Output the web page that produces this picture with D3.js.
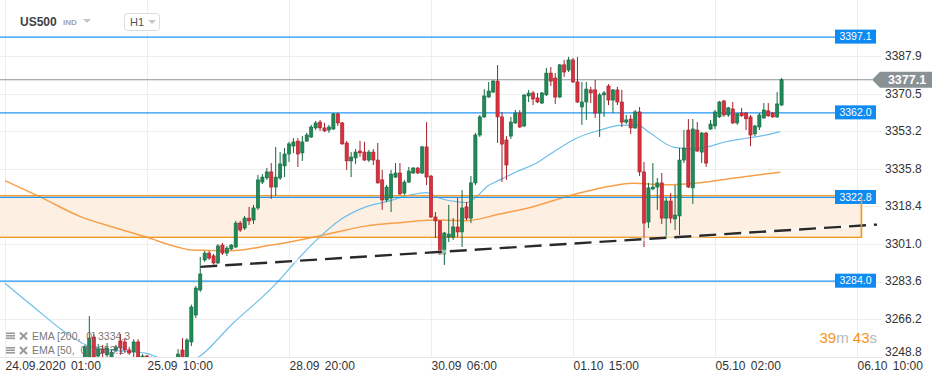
<!DOCTYPE html>
<html><head><meta charset="utf-8">
<script src="https://cdn.jsdelivr.net/npm/d3@7"></script>
<style>
body{margin:0;background:#fff;}
svg{display:block;font-family:"Liberation Sans",Arial,sans-serif;}
</style>
</head><body>
<svg id="c" width="945" height="383"></svg>
<script>
// ---------- DATA ----------
const symbol = "US500";
const symbolType = "IND";
const timeframe = "H1";
const firstIndex = 18; // index of the first candle (hourly bars, 32 per grid step)
const opens = [
3246.3,3248.6,3257.9,3249.1,3252.3,3249.6,3248.6,3251.9,3256.1,3255.6,
3251.9,3251.0,3255.6,3248.2,3249.1,3248.2,3244.0,3240.8,3237.6,3240.2,
3238.0,3248.2,3251.9,3247.2,3255.6,3268.1,3279.7,3293.6,3296.8,3295.5,
3292.2,3300.5,3296.8,3298.7,3299.6,3310.7,3308.4,3313.0,3312.1,3317.7,
3329.7,3331.6,3334.4,3327.4,3331.6,3337.2,3342.7,3346.4,3348.7,3343.2,
3348.7,3350.6,3354.8,3357.5,3354.8,3353.8,3354.3,3361.3,3357.1,3347.8,
3339.5,3340.9,3344.1,3343.6,3339.9,3343.6,3339.9,3330.7,3321.4,3322.3,
3332.0,3333.9,3324.6,3329.7,3333.9,3336.2,3333.9,3346.0,3332.5,3313.5,
3311.7,3296.4,3304.2,3304.2,3308.9,3306.6,3318.2,3313.0,3329.3,3351.5,
3359.9,3369.1,3371.4,3376.5,3359.9,3349.2,3351.0,3357.1,3361.7,3355.7,
3369.6,3371.0,3368.7,3366.3,3370.1,3380.2,3377.9,3369.1,3384.0,3381.6,
3386.3,3376.1,3364.5,3366.8,3372.4,3372.4,3361.7,3370.1,3374.2,3367.7,
3372.4,3366.8,3357.5,3358.9,3354.8,3362.2,3334.4,3311.2,3326.5,3327.4,
3329.3,3313.0,3320.9,3312.6,3314.0,3339.9,3353.8,3327.0,3353.8,3343.6,
3352.4,3354.3,3355.7,3359.9,3367.3,3360.8,3363.6,3357.1,3361.7,3361.7,
3359.9,3352.0,3355.2,3359.4,3362.7,3361.7,3359.9,3365.4];
const highs = [
3254.2,3267.6,3259.3,3254.7,3254.2,3255.1,3252.3,3254.2,3259.3,3257.4,
3253.3,3256.9,3256.9,3250.0,3249.6,3248.8,3245.0,3241.9,3241.5,3241.2,
3247.8,3252.3,3257.4,3257.4,3272.9,3281.5,3295.0,3297.8,3297.8,3296.4,
3301.0,3301.5,3300.1,3301.0,3311.7,3311.7,3314.0,3318.2,3319.1,3333.0,
3333.4,3336.2,3338.5,3346.0,3343.6,3345.5,3348.3,3350.1,3350.1,3351.1,
3352.5,3356.2,3358.0,3358.5,3357.1,3356.2,3361.7,3361.8,3357.5,3348.7,
3343.6,3345.0,3348.8,3348.3,3344.6,3345.0,3347.8,3335.3,3328.4,3335.3,
3338.5,3338.5,3330.7,3336.7,3336.7,3336.7,3346.5,3357.5,3333.0,3315.8,
3312.1,3306.6,3319.1,3313.0,3322.3,3326.0,3320.5,3332.5,3352.5,3360.8,
3372.8,3376.1,3377.0,3383.9,3362.2,3351.0,3359.9,3363.1,3363.1,3370.5,
3372.4,3371.9,3371.0,3371.4,3382.6,3383.0,3380.2,3384.4,3386.3,3387.7,
3387.2,3387.7,3376.1,3376.1,3373.8,3377.0,3371.0,3371.9,3375.1,3372.8,
3373.8,3372.4,3360.8,3360.8,3363.1,3364.5,3339.0,3329.3,3338.5,3331.6,
3333.9,3322.3,3324.6,3328.3,3345.5,3353.8,3358.9,3358.9,3357.5,3352.9,
3352.9,3358.5,3363.1,3367.3,3367.7,3364.5,3366.8,3361.7,3364.1,3362.2,
3360.8,3356.2,3361.7,3366.3,3366.3,3362.2,3371.4,3377.9];
const lows = [
3244.9,3247.2,3247.2,3247.7,3248.6,3248.2,3247.7,3250.9,3249.6,3250.5,
3249.6,3248.2,3247.7,3247.2,3246.8,3242.5,3238.5,3235.2,3236.1,3236.4,
3237.0,3246.3,3246.3,3246.3,3253.7,3266.7,3278.8,3292.7,3293.6,3291.3,
3291.7,3295.9,3295.4,3298.2,3299.1,3306.6,3307.5,3309.8,3310.3,3316.8,
3328.8,3330.7,3321.9,3323.3,3330.7,3332.0,3339.0,3343.2,3336.7,3339.5,
3348.3,3350.1,3353.8,3353.4,3352.9,3352.5,3353.8,3355.7,3346.9,3335.3,
3332.0,3338.0,3341.4,3339.5,3339.0,3337.6,3329.0,3316.8,3320.5,3315.8,
3331.6,3323.7,3323.7,3329.3,3333.5,3333.4,3333.4,3328.3,3313.1,3303.8,
3296.0,3291.3,3301.9,3302.9,3304.2,3299.6,3312.1,3310.7,3328.3,3350.6,
3359.4,3368.7,3371.0,3347.8,3329.7,3330.7,3349.7,3356.6,3354.8,3355.2,
3366.8,3365.4,3366.3,3365.9,3369.6,3374.2,3365.9,3368.7,3378.4,3380.7,
3375.6,3366.3,3356.2,3358.5,3366.3,3359.4,3350.6,3359.9,3365.4,3361.7,
3365.4,3355.2,3356.6,3352.0,3354.3,3332.5,3299.6,3308.4,3326.0,3316.8,
3310.3,3304.2,3310.7,3307.5,3305.2,3338.5,3327.0,3319.6,3343.6,3338.5,
3336.7,3353.8,3354.3,3359.4,3359.9,3359.9,3356.6,3356.2,3359.9,3353.8,
3346.4,3351.0,3353.8,3359.0,3359.9,3359.4,3359.4,3364.9];
const closes = [
3253.3,3257.4,3248.6,3252.3,3250.5,3252.8,3250.9,3253.3,3252.8,3251.9,
3250.5,3255.6,3248.6,3249.1,3248.2,3244.0,3240.8,3237.6,3240.2,3238.0,
3247.0,3250.0,3248.2,3256.5,3271.8,3280.6,3287.1,3296.8,3294.5,3292.2,
3300.1,3296.8,3299.1,3300.5,3310.7,3307.5,3313.0,3311.7,3317.7,3330.7,
3332.0,3334.4,3327.4,3332.0,3338.1,3342.7,3347.4,3348.3,3342.7,3348.3,
3351.5,3355.2,3357.1,3354.8,3353.4,3355.2,3361.3,3357.1,3347.4,3339.5,
3341.3,3343.6,3343.2,3339.9,3343.6,3339.9,3329.3,3321.4,3327.4,3333.4,
3333.9,3324.2,3329.7,3334.8,3336.2,3333.9,3346.0,3332.0,3313.5,3311.7,
3296.4,3306.1,3305.6,3308.9,3306.6,3317.7,3313.0,3329.3,3351.5,3359.9,
3369.6,3371.9,3376.5,3359.9,3347.3,3337.6,3357.5,3361.7,3355.2,3370.0,
3370.9,3368.2,3366.8,3371.0,3380.2,3376.5,3369.1,3384.0,3380.7,3386.3,
3376.1,3366.8,3366.8,3372.8,3371.0,3361.7,3370.1,3371.0,3367.7,3372.4,
3366.8,3357.5,3358.5,3354.8,3362.2,3334.4,3310.7,3327.0,3327.4,3329.3,
3313.0,3320.9,3313.0,3314.4,3339.9,3345.5,3327.4,3354.3,3344.1,3352.4,
3338.5,3356.6,3362.2,3366.8,3360.8,3364.1,3357.1,3361.3,3360.4,3359.0,
3351.5,3355.7,3360.8,3363.1,3360.4,3359.9,3365.9,3377.1];

// EMA 200 (orange)
const ema200Idx = [0,8,17,24,32,39,42,51,60,70,74,81.5,89,96.5,104,111.5,119,126.6,134,141.5,149,156.6,164,171.6,174.7];
const ema200Val = [3330.4,3322.7,3313.7,3309.0,3304.1,3299.5,3298.2,3297.9,3300.5,3304.4,3306.2,3309.4,3310.9,3312.1,3311.8,3314.9,3318.3,3323.0,3326.8,3329.2,3328.4,3329.4,3331.5,3333.5,3334.3];
// EMA 50 (light blue)
const ema50Idx = [0,6.4,13.9,18.4,24.3,31.9,34.9,39,42.4,51.4,61.2,66.5,71,75.5,81.5,86,91.3,95,98,101.8,104,106.3,108.6,111.5,115.3,119,124.3,128.8,134.1,138.6,142.4,145.4,150.6,154.4,158.1,162.6,167.1,171.6,174.7];
const ema50Val = [3282.8,3271.9,3259.6,3254.1,3251.8,3250.3,3248.1,3245.6,3247.2,3264.3,3282.9,3295.1,3304.4,3312.1,3318.3,3320.6,3323.7,3324.8,3322.2,3320.6,3320.2,3322.9,3327.6,3330.7,3334.5,3337.7,3344.6,3350.0,3353.8,3356.0,3356.2,3352.4,3345.9,3345.1,3345.9,3348.5,3350.0,3351.6,3353.1];

const levels = [3397.1, 3362.0, 3322.8, 3284.0];
const lastPrice = 3377.1;
const zoneTop = 3323.4, zoneBottom = 3304.1, zoneEndIdx = 193;
const trendIdx = [44, 196.5];
const trendVal = [3290.4, 3310.0];

const yTicks = [3248.8, 3266.2, 3283.6, 3301.0, 3318.4, 3335.8, 3353.2, 3370.5, 3387.9];
const xTickIdx = [0, 32, 64, 96, 128, 160, 192];
const xTickLabels = ["24.09.2020 01:00","25.09 10:00","28.09 20:00","30.09 06:00","01.10 15:00","05.10 02:00","06.10 10:00"];
const legendItems = [{name:"EMA [200,  0]", value:"3334.3"},{name:"EMA [50,  0]", value:"3353.1"}];
const countdown = {min:"39", sec:"43"};

// ---------- DRAW ----------
const svg = d3.select("#c");
const plotRight = 877, plotBottom = 357;
const x = d3.scaleLinear().domain([0, 192]).range([5, 857]);
const y = d3.scaleLinear().domain([3301, 3401]).range([244, 28.2]);

svg.append("defs").append("clipPath").attr("id","clip")
  .append("rect").attr("x",0).attr("y",0).attr("width",plotRight).attr("height",plotBottom);

// grid
const grid = svg.append("g");
grid.selectAll(".vg").data(xTickIdx).join("line")
  .attr("x1",d=>Math.round(x(d))+0.5).attr("x2",d=>Math.round(x(d))+0.5)
  .attr("y1",0).attr("y2",plotBottom).attr("stroke","#eeeeee");
grid.selectAll(".hg").data(yTicks).join("line")
  .attr("x1",0).attr("x2",882)
  .attr("y1",d=>Math.round(y(d))+0.5).attr("y2",d=>Math.round(y(d))+0.5)
  .attr("stroke","#eeeeee");
grid.append("line").attr("x1",0).attr("x2",882).attr("y1",plotBottom+0.5).attr("y2",plotBottom+0.5).attr("stroke","#e6e6e6");

const plot = svg.append("g").attr("clip-path","url(#clip)");

// zone fill
plot.append("rect").attr("x",-5).attr("width",x(zoneEndIdx)+5)
  .attr("y",y(zoneTop)).attr("height",y(zoneBottom)-y(zoneTop))
  .attr("fill","#fdf0e2");

// EMA lines
const ema200 = ema200Idx.map((d,i)=>[d, ema200Val[i]]);
const ema50 = ema50Idx.map((d,i)=>[d, ema50Val[i]]);
const line = d3.line().x(d=>x(d[0])).y(d=>y(d[1])).curve(d3.curveMonotoneX);
plot.append("path").attr("d",line(ema200)).attr("fill","none").attr("stroke","#f7a04a").attr("stroke-width",1.5);
plot.append("path").attr("d",line(ema50)).attr("fill","none").attr("stroke","#6cbfe9").attr("stroke-width",1.2);

// zone stroke (under the level lines)
plot.append("rect").attr("x",-5).attr("width",x(zoneEndIdx)+5)
  .attr("y",y(zoneTop)).attr("height",y(zoneBottom)-y(zoneTop))
  .attr("fill","none").attr("stroke","#f39a2a").attr("stroke-width",1.4);

// level lines
plot.selectAll(".lvl").data(levels).join("line")
  .attr("x1",0).attr("x2",836)
  .attr("y1",d=>y(d)+0.5).attr("y2",d=>y(d)+0.5)
  .attr("stroke","#2196f3").attr("stroke-width",1.3);
// current price line
plot.append("line").attr("x1",0).attr("x2",872).attr("y1",y(lastPrice)).attr("y2",y(lastPrice))
  .attr("stroke","#8d9397").attr("stroke-width",1.1);

// candles
const candles = opens.map((o,k)=>({i:firstIndex+k,o,h:highs[k],l:lows[k],c:closes[k]}));
const cg = plot.append("g");
const up = {fill:"#1f8a58", stroke:"#15683f"}, dn = {fill:"#d9303d", stroke:"#a51f2a"};
cg.selectAll(".wick").data(candles).join("line")
  .attr("x1",d=>x(d.i)).attr("x2",d=>x(d.i))
  .attr("y1",d=>y(d.h)).attr("y2",d=>y(d.l))
  .attr("stroke",d=>d.c>=d.o?up.stroke:dn.stroke).attr("stroke-width",1);
cg.selectAll(".body").data(candles).join("rect")
  .attr("x",d=>x(d.i)-1.6).attr("width",3.2)
  .attr("y",d=>y(Math.max(d.o,d.c)))
  .attr("height",d=>Math.max(1, Math.abs(y(d.o)-y(d.c))))
  .attr("fill",d=>d.c>=d.o?up.fill:dn.fill)
  .attr("stroke",d=>d.c>=d.o?up.stroke:dn.stroke).attr("stroke-width",0.6);

// trendline
const trend = trendIdx.map((d,i)=>[d, trendVal[i]]);
plot.append("path").attr("d",d3.line().x(d=>x(d[0])).y(d=>y(d[1]))(trend))
  .attr("stroke","#ffffff").attr("stroke-width",4).attr("stroke-opacity",0.5).attr("fill","none");
plot.append("path").attr("d",d3.line().x(d=>x(d[0])).y(d=>y(d[1]))(trend))
  .attr("stroke","#2a2a2a").attr("stroke-width",2.4).attr("stroke-dasharray","17,8").attr("fill","none");

// level label boxes
const lb = svg.append("g");
levels.forEach(v=>{
  lb.append("rect").attr("x",835).attr("y",y(v)-7).attr("width",41).attr("height",14).attr("fill","#0d8bf2");
  lb.append("text").attr("x",855.5).attr("y",y(v)+3.6).attr("text-anchor","middle")
    .attr("fill","#fff").attr("font-size",10.5).text(v.toFixed(1));
});
// zone right edge over the label box
svg.append("line").attr("x1",x(zoneEndIdx)).attr("x2",x(zoneEndIdx))
  .attr("y1",y(zoneTop)).attr("y2",y(zoneBottom)).attr("stroke","#f39a2a").attr("stroke-width",1.4);

// price tag
const py = y(lastPrice);
svg.append("path").attr("d",`M872,${py} L880,${py-8} L932,${py-8} L932,${py+8} L880,${py+8} Z`).attr("fill","#8a9195");
svg.append("text").attr("x",907).attr("y",py+4.3).attr("text-anchor","middle").attr("fill","#fff")
  .attr("font-size",12.5).attr("font-weight","bold").text(lastPrice.toFixed(1));

// axes
const yAxis = svg.append("g").attr("transform","translate(882,0)")
  .call(d3.axisRight(y).tickValues(yTicks).tickSize(0).tickPadding(3).tickFormat(d3.format(".1f")));
yAxis.select(".domain").remove();
yAxis.selectAll("text").attr("font-size",12).attr("fill","#333").attr("font-family","Liberation Sans, Arial, sans-serif");
yAxis.selectAll(".tick").attr("transform",d=>`translate(0,${Math.min(y(d),352)})`);

const xAxis = svg.append("g").attr("transform",`translate(0,${plotBottom})`)
  .call(d3.axisBottom(x).tickValues(xTickIdx).tickSize(0).tickPadding(4.5).tickFormat((d,i)=>xTickLabels[i]));
xAxis.select(".domain").remove();
xAxis.selectAll("text").attr("text-anchor","start").attr("font-size",12).attr("fill","#333")
  .attr("word-spacing","2px").attr("font-family","Liberation Sans, Arial, sans-serif");
xAxis.selectAll(".tick").attr("transform",d=>`translate(${Math.round(x(d))+0.5},0)`);

// header
const hd = svg.append("g");
hd.append("text").attr("x",20).attr("y",26).attr("font-size",12).attr("font-weight","bold").attr("fill","#3d4146").text(symbol);
hd.append("text").attr("x",63).attr("y",25).attr("font-size",8).attr("font-weight","bold").attr("fill","#a0a4a8").text(symbolType);
hd.append("path").attr("d","M83,19 L91,19 L87,23 Z").attr("fill","#c2c5c8");
hd.append("rect").attr("x",124.5).attr("y",13.5).attr("width",35).attr("height",17).attr("rx",3).attr("fill","#fff").attr("stroke","#dcdcdc");
hd.append("text").attr("x",130).attr("y",26).attr("font-size",11).attr("fill","#555").text(timeframe);
hd.append("path").attr("d","M148,20 L156,20 L152,24 Z").attr("fill","#c2c5c8");

// legend
const lg = svg.append("g");
legendItems.forEach((it,k)=>{
  const by = 339.5 + k*14.5;
  [0,2.5,5].forEach(o=>lg.append("rect").attr("x",6).attr("y",by-7+o).attr("width",9).attr("height",1.6).attr("fill","#9a9a9a"));
  lg.append("path").attr("d",`M20,${by-7} L27,${by} M27,${by-7} L20,${by}`).attr("stroke","#9a9a9a").attr("stroke-width",2);
  lg.append("text").attr("x",32).attr("y",by).attr("font-size",10.5).attr("fill","#666").attr("fill-opacity",0.9)
    .style("white-space","pre").text(it.name + " " + it.value);
});

// countdown
const cd = svg.append("text").attr("x",877).attr("y",343).attr("text-anchor","end").attr("font-size",15);
cd.append("tspan").attr("fill","#f7931e").text(countdown.min);
cd.append("tspan").attr("fill","#b4b9bd").text("m ");
cd.append("tspan").attr("fill","#f7931e").text(countdown.sec);
cd.append("tspan").attr("fill","#b4b9bd").text("s");
</script>
</body></html>
